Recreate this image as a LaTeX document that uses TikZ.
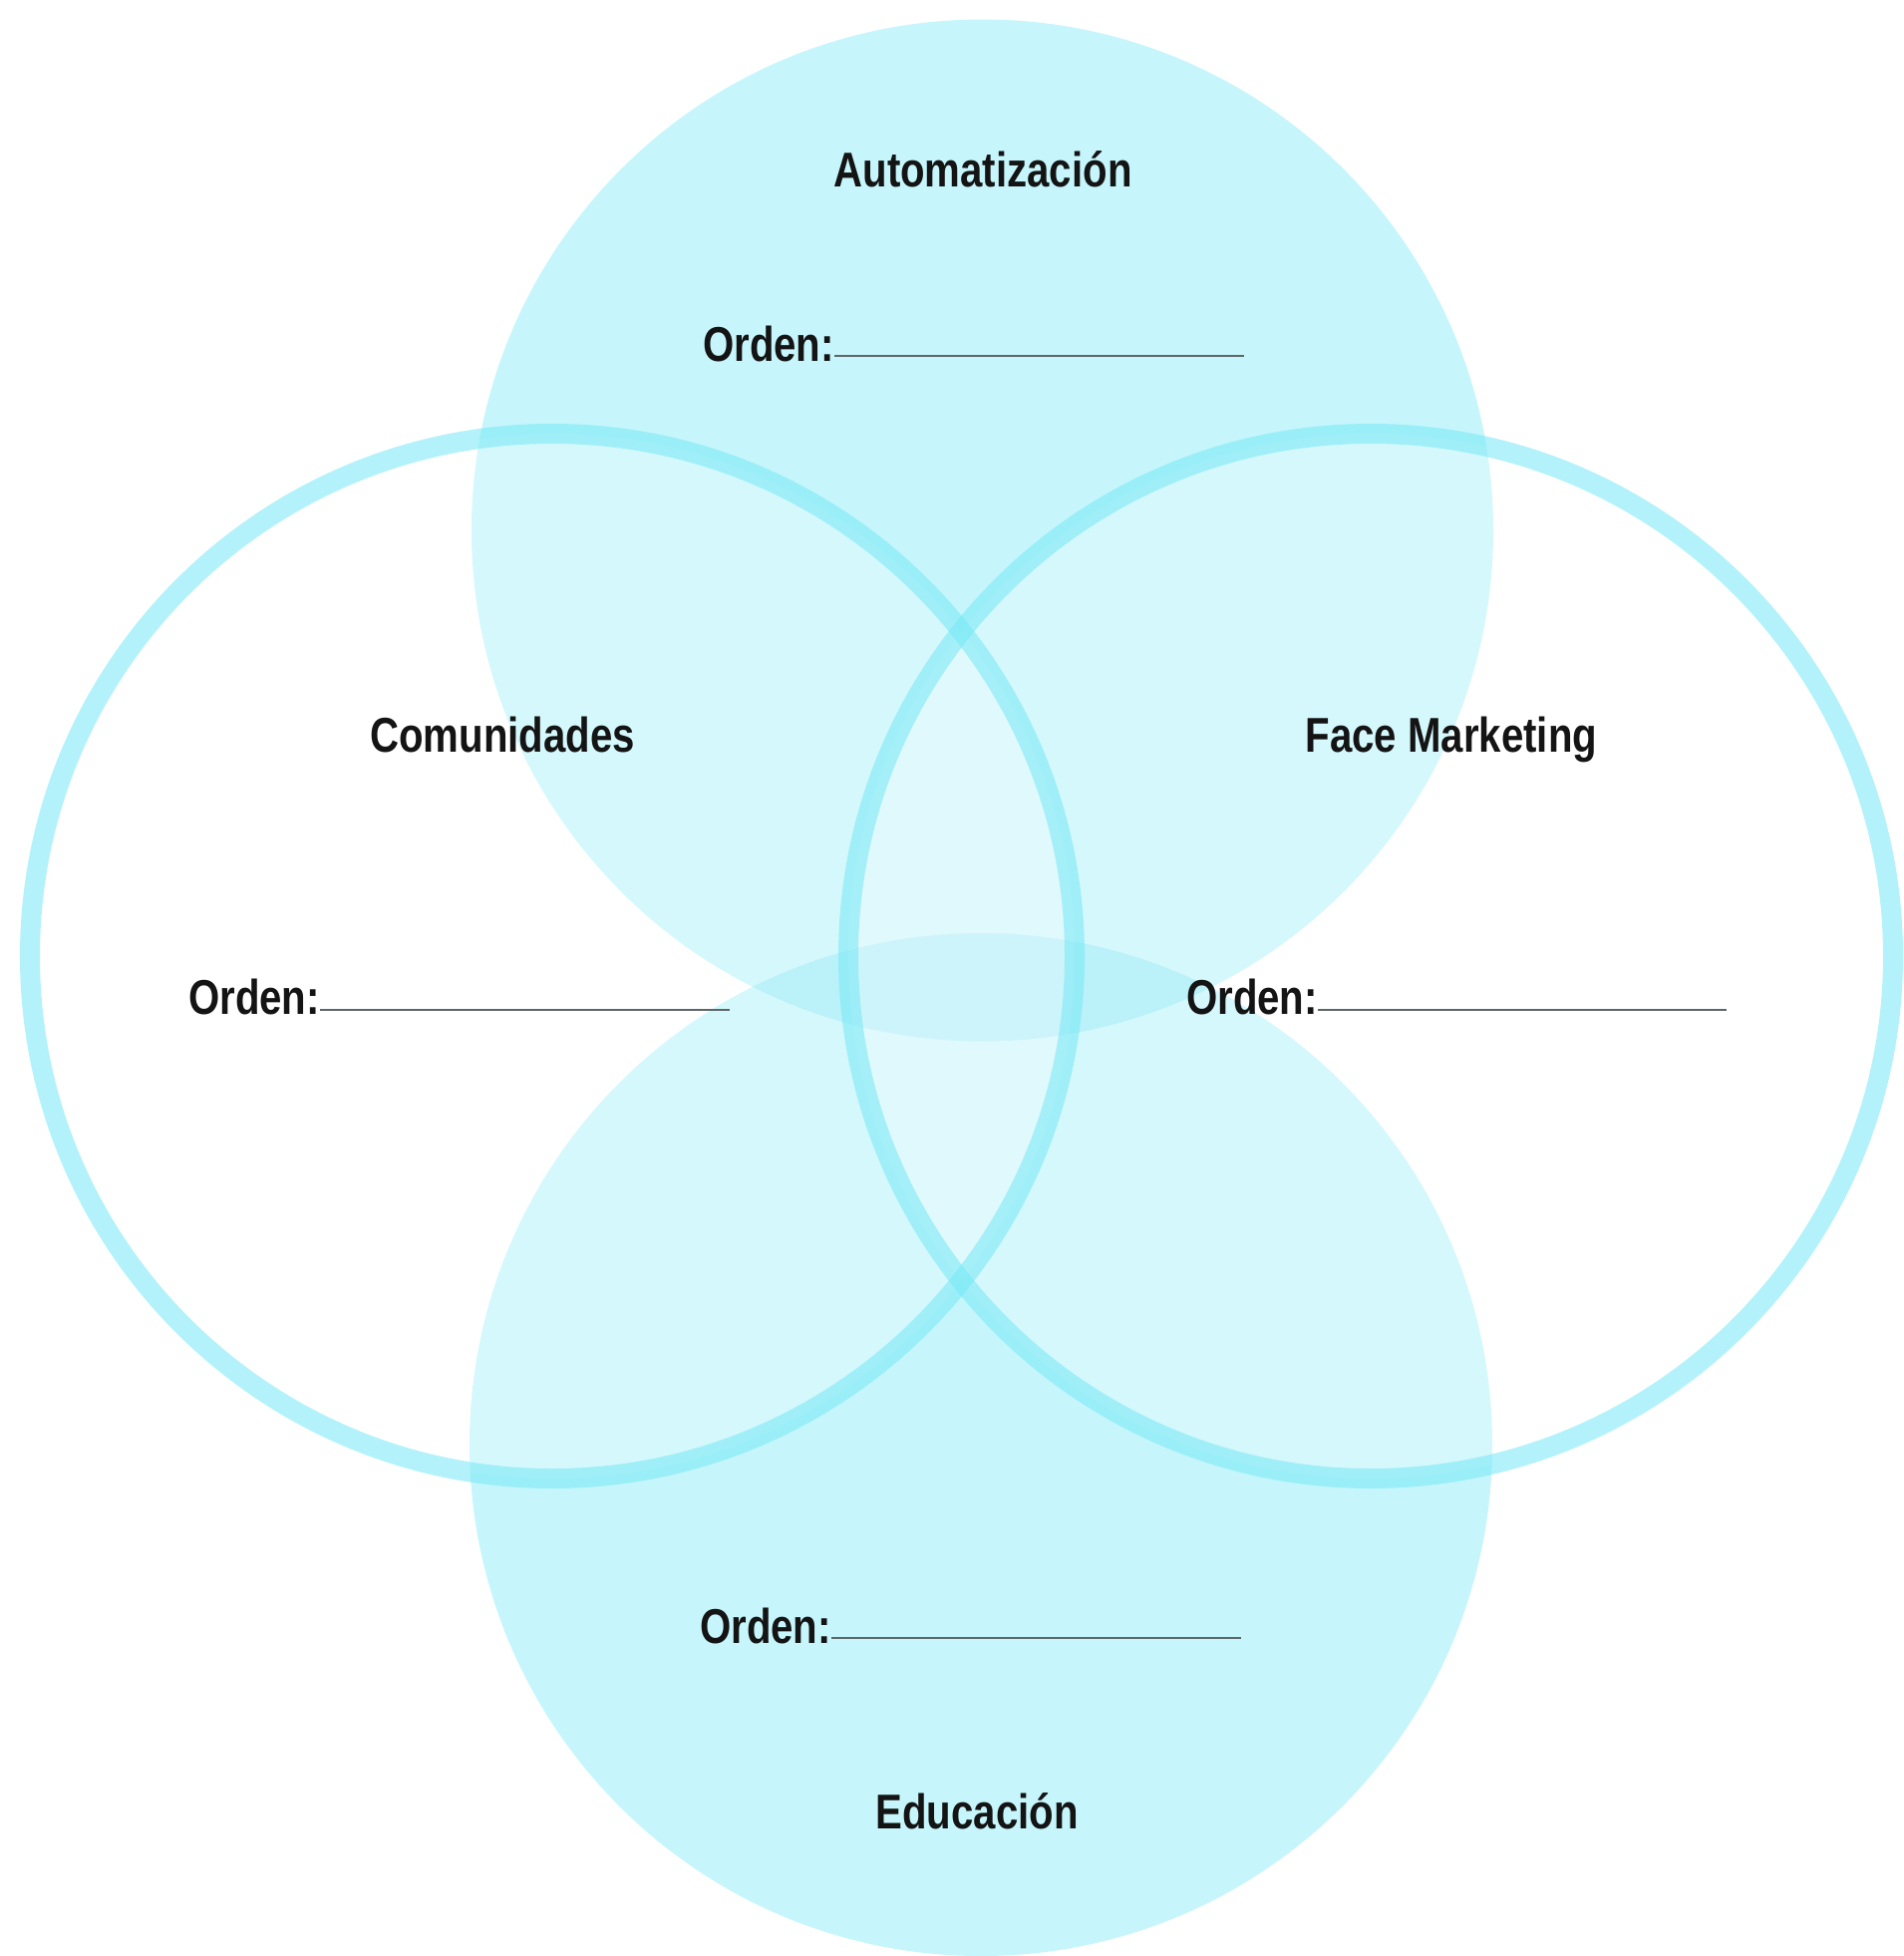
\documentclass[tikz,border=0pt]{standalone}
\usepackage{fontspec}
\newfontfamily\lblfont{Liberation Sans}[FakeStretch=0.82]
\definecolor{circfill}{HTML}{C6F6FC}
\definecolor{lensfill}{HTML}{A3EDF8}
\definecolor{ringcol}{HTML}{75E9F6}
\definecolor{rulecol}{HTML}{5E6669}
\definecolor{txtcol}{HTML}{141414}
\tikzset{
  lbl/.style={inner sep=0pt, text=txtcol, font=\lblfont\bfseries\fontsize{49}{58}\selectfont},
  ringline/.style={draw=ringcol, draw opacity=0.55, line width=20pt},
  ringveil/.style={fill=white, fill opacity=0.27},
  rulestyle/.style={draw=rulecol, line width=2.6pt}
}
\begin{document}
\begin{tikzpicture}[x=1pt,y=-1pt]
\useasboundingbox (0,0) rectangle (1910,1962);
\fill[white] (0,0) rectangle (1910,1962);
% centres
\coordinate (ctop) at (985.5,532);
\coordinate (cbot) at (984,1449);
\coordinate (cleft) at (554,959);
\coordinate (cright) at (1375,959);
% filled circles
\fill[circfill] (ctop) circle[radius=512.5pt];
\fill[circfill] (cbot) circle[radius=513pt];
% lens
\begin{scope}
  \clip (ctop) circle[radius=512.5pt];
  \fill[lensfill] (cbot) circle[radius=513pt];
\end{scope}
% ring interiors veil
\fill[ringveil] (cleft) circle[radius=524pt];
\fill[ringveil] (cright) circle[radius=524pt];
% rings
\draw[ringline] (cleft) circle[radius=524pt];
\draw[ringline] (cright) circle[radius=524pt];
% titles
\node[lbl, anchor=base] (tauto) at (986,187) {Automatización};
\node[lbl, anchor=base] (tcom) at (504,754) {Comunidades};
\node[lbl, anchor=base] (tface) at (1456,754) {Face Marketing};
\node[lbl, anchor=base] (tedu) at (980,1834) {Educación};
% Orden fields
\node[lbl, anchor=base west] (o1) at (705,362) {Orden:};
\coordinate (o1e) at (1248,357);
\draw[rulestyle] (o1.base east |- o1e) -- (o1e);
\node[lbl, anchor=base west] (o2) at (189,1017) {Orden:};
\coordinate (o2e) at (732,1013);
\draw[rulestyle] (o2.base east |- o2e) -- (o2e);
\node[lbl, anchor=base west] (o3) at (1190,1017) {Orden:};
\coordinate (o3e) at (1732,1013);
\draw[rulestyle] (o3.base east |- o3e) -- (o3e);
\node[lbl, anchor=base west] (o4) at (702,1648) {Orden:};
\coordinate (o4e) at (1245,1643);
\draw[rulestyle] (o4.base east |- o4e) -- (o4e);
\end{tikzpicture}
\end{document}
